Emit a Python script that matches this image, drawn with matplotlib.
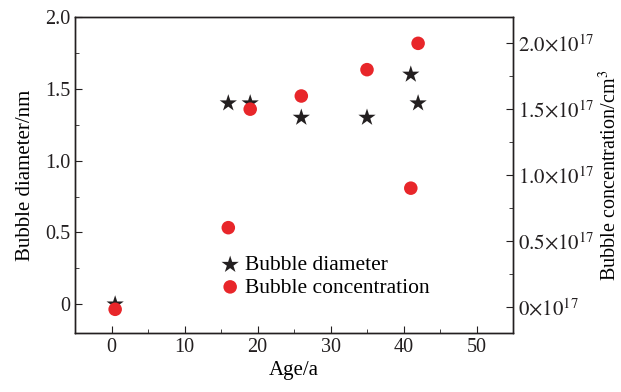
import matplotlib
matplotlib.use('Agg')
import matplotlib.pyplot as plt
from matplotlib.ticker import MultipleLocator, FixedLocator, FixedFormatter

plt.rcParams['font.family'] = ['Liberation Serif', 'DejaVu Serif']
plt.rcParams['mathtext.fontset'] = 'stix'
plt.rcParams['font.size'] = 14

# data
age_diam = [0.5, 16, 19, 26, 35, 41, 42]
diameter = [0.0, 1.4, 1.4, 1.3, 1.3, 1.6, 1.4]
age_conc = [0.5, 16, 19, 26, 35, 41, 42]
concentration = [-0.02, 0.6, 1.5, 1.6, 1.8, 0.9, 2.0]  # x10^17 /cm^3
conc_ticks = [0, 0.5, 1.0, 1.5, 2.0]
conc_labels = [r'$0{\times}10^{17}$', r'$0.5{\times}10^{17}$', r'$1.0{\times}10^{17}$',
               r'$1.5{\times}10^{17}$', r'$2.0{\times}10^{17}$']

fig = plt.figure(figsize=(6.21, 3.92), dpi=100)
ax = fig.add_axes([75 / 621, 59 / 392, 438 / 621, 316 / 392])
ax2 = ax.twinx()

ax.scatter(age_diam, diameter, marker='*', s=170, color='#231f20', zorder=3,
           edgecolors='none', label='Bubble diameter')
ax2.scatter(age_conc, concentration, marker='o', s=95, color='#e8262a', zorder=3,
            edgecolors='none', label='Bubble concentration')

ax.set_xlim(-5, 55)
ax.set_ylim(-0.2, 2.0)
ax2.set_ylim(-0.2, 2.2)

ax.xaxis.set_major_locator(MultipleLocator(10))
ax.xaxis.set_minor_locator(MultipleLocator(5))
ax.yaxis.set_minor_locator(MultipleLocator(0.25))
ax.set_yticks([0, 0.5, 1.0, 1.5, 2.0])
ax.set_yticklabels(['0', '0.5', '1.0', '1.5', '2.0'])

ax2.yaxis.set_major_locator(FixedLocator(conc_ticks))
ax2.yaxis.set_major_formatter(FixedFormatter(conc_labels))
ax2.yaxis.set_minor_locator(MultipleLocator(0.25))

ax.tick_params(which='both', direction='in', top=False, right=False, labelsize=14.5, colors='#231f20')
ax.tick_params(which='major', length=5)
ax.tick_params(which='minor', length=3)
ax2.tick_params(which='both', direction='in', labelsize=15, colors='#231f20')
ax2.tick_params(which='major', length=5)
ax2.tick_params(which='minor', length=3)

for a in (ax, ax2):
    for s in a.spines.values():
        s.set_color('#231f20')
        s.set_linewidth(1.0)

ax.set_xlabel('Age/a', fontsize=15, labelpad=3)
ax.set_ylabel('Bubble diameter/nm', fontsize=15, labelpad=7)
ax2.set_ylabel(r'Bubble concentration/cm$^3$', fontsize=14.5, labelpad=3)

h1, l1 = ax.get_legend_handles_labels()
h2, l2 = ax2.get_legend_handles_labels()
ax.legend(h1 + h2, l1 + l2, loc='lower left', bbox_to_anchor=(0.31, 0.085),
          frameon=False, fontsize=15.5, handlelength=1.0, handletextpad=0.2,
          labelspacing=0.1, borderaxespad=0)

fig.savefig('out.png', dpi=100)
